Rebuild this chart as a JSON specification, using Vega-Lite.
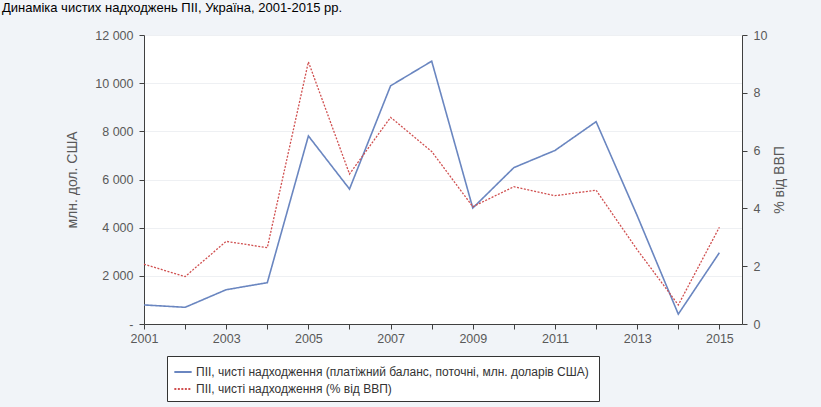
{
  "$schema": "https://vega.github.io/schema/vega-lite/v6.json",
  "width": 598,
  "height": 289,
  "autosize": {"type": "none"},
  "padding": {"left": 144, "top": 35, "right": 79, "bottom": 83},
  "background": "#f1f4f8",
  "config": {
    "font": "Liberation Sans",
    "view": {"fill": "white", "stroke": null},
    "axis": {
      "labelFont": "Liberation Sans",
      "labelFontSize": 12.5,
      "labelColor": "#595959",
      "titleFont": "Liberation Sans",
      "titleColor": "#595959",
      "titleFontWeight": "normal",
      "domainColor": "#404040",
      "tickColor": "#404040",
      "tickSize": 5
    }
  },
  "title": {
    "text": "Динаміка чистих надходжень ПІІ, Україна, 2001-2015 рр.",
    "anchor": "start",
    "frame": "group",
    "fontSize": 13,
    "fontWeight": "normal",
    "color": "#000000",
    "offset": 21,
    "dy": 7,
    "dx": -142
  },
  "data": {
    "values": [
      {"year": 2001, "usd": 792, "pct": 2.07},
      {"year": 2002, "usd": 693, "pct": 1.64},
      {"year": 2003, "usd": 1424, "pct": 2.86},
      {"year": 2004, "usd": 1715, "pct": 2.64},
      {"year": 2005, "usd": 7808, "pct": 9.07},
      {"year": 2006, "usd": 5604, "pct": 5.19},
      {"year": 2007, "usd": 9891, "pct": 7.15},
      {"year": 2008, "usd": 10913, "pct": 5.97},
      {"year": 2009, "usd": 4816, "pct": 4.06},
      {"year": 2010, "usd": 6495, "pct": 4.75},
      {"year": 2011, "usd": 7207, "pct": 4.44},
      {"year": 2012, "usd": 8401, "pct": 4.63},
      {"year": 2013, "usd": 4499, "pct": 2.57},
      {"year": 2014, "usd": 410, "pct": 0.66},
      {"year": 2015, "usd": 2961, "pct": 3.35}
    ]
  },
  "encoding": {
    "x": {
      "field": "year",
      "type": "quantitative",
      "scale": {"domain": [2001, 2015.55], "nice": false, "zero": false},
      "axis": {
        "title": null,
        "values": [2001, 2002, 2003, 2004, 2005, 2006, 2007, 2008, 2009, 2010, 2011, 2012, 2013, 2014, 2015],
        "labelExpr": "datum.value % 2 == 1 ? format(datum.value, 'd') : ''",
        "labelFlush": false,
        "labelOverlap": false,
        "grid": false,
        "labelPadding": 3,
        "labelFontSize": 12.5
      }
    }
  },
  "layer": [
    {
      "mark": {"type": "line", "strokeWidth": 1.6},
      "encoding": {
        "y": {
          "field": "usd",
          "type": "quantitative",
          "scale": {"domain": [0, 12000], "nice": false},
          "axis": {
            "orient": "left",
            "title": "млн. дол. США",
            "titleFontSize": 14,
            "titlePadding": 15,
            "values": [0, 2000, 4000, 6000, 8000, 10000, 12000],
            "labelExpr": "datum.value == 0 ? '-' : replace(format(datum.value, ','), ',', ' ')",
            "grid": true,
            "gridColor": "#eef0f3",
            "labelPadding": 6
          }
        },
        "color": {
          "datum": "ПІІ, чисті надходження (платіжний баланс, поточні, млн.  доларів США)",
          "type": "nominal",
          "scale": {
            "domain": [
              "ПІІ, чисті надходження (платіжний баланс, поточні, млн.  доларів США)",
              "ПІІ, чисті надходження (% від ВВП)"
            ],
            "range": ["#6a86c0", "#d05050"]
          },
          "legend": {
            "orient": "none",
            "legendX": 23,
            "legendY": 321,
            "title": null,
            "direction": "vertical",
            "strokeColor": "#333333",
            "fillColor": "white",
            "padding": 6,
            "symbolType": "stroke",
            "symbolSize": 300,
            "symbolStrokeWidth": 2,
            "labelFontSize": 12,
            "labelColor": "#333333",
            "labelOffset": 3,
            "rowPadding": 1,
            "labelLimit": 500
          }
        },
        "strokeDash": {
          "datum": "ПІІ, чисті надходження (платіжний баланс, поточні, млн.  доларів США)",
          "type": "nominal",
          "scale": {
            "domain": [
              "ПІІ, чисті надходження (платіжний баланс, поточні, млн.  доларів США)",
              "ПІІ, чисті надходження (% від ВВП)"
            ],
            "range": [[1, 0], [2, 1.5]]
          }
        }
      }
    },
    {
      "mark": {"type": "line", "strokeWidth": 1.3},
      "encoding": {
        "y": {
          "field": "pct",
          "type": "quantitative",
          "scale": {"domain": [0, 10], "nice": false},
          "axis": {
            "orient": "right",
            "title": "% від ВВП",
            "titleFontSize": 14,
            "titleAngle": -90,
            "titlePadding": 20,
            "values": [0, 2, 4, 6, 8, 10],
            "grid": false,
            "labelPadding": 6
          }
        },
        "color": {
          "datum": "ПІІ, чисті надходження (% від ВВП)",
          "type": "nominal"
        },
        "strokeDash": {
          "datum": "ПІІ, чисті надходження (% від ВВП)",
          "type": "nominal"
        }
      }
    }
  ],
  "resolve": {"scale": {"y": "independent"}}
}
